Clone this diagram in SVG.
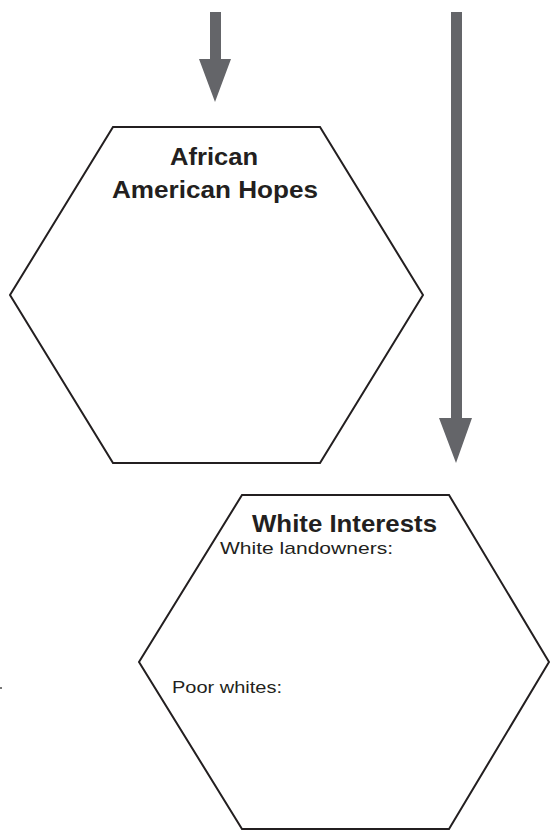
<svg xmlns="http://www.w3.org/2000/svg" width="550" height="832" viewBox="0 0 550 832">
<style>
.hex{fill:#fff;stroke:#231f20;stroke-width:2;stroke-linejoin:miter}
.arrow{fill:#646569}
.title{font-family:"Liberation Sans",Arial,sans-serif;font-weight:bold;font-size:24px;fill:#231f20;text-anchor:middle}
.body{font-family:"Liberation Sans",Arial,sans-serif;font-size:17px;fill:#231f20}
</style>
<rect width="550" height="832" fill="#fff"/>
<g id="connectors">
<path class="arrow" d="M210,12 H221 V59 H231 L215,102 L199,59 H210 Z"/>
<path class="arrow" d="M451,12 H462 V418 H472 L456,463 L439,418 H451 Z"/>
<rect x="0" y="687" width="2" height="2" fill="#777"/>
</g>
<g id="african-american-hopes">
<polygon class="hex" points="113,127 320,127 423,295 320,463 113,463 10,295"/>
<text class="title" x="214" y="165" textLength="88" lengthAdjust="spacingAndGlyphs">African</text>
<text class="title" x="215" y="198" textLength="206" lengthAdjust="spacingAndGlyphs">American Hopes</text>
</g>
<g id="white-interests">
<polygon class="hex" points="242,495 449,495 549,662 449,829 242,829 139,662"/>
<text class="title" x="344.5" y="532" textLength="185" lengthAdjust="spacingAndGlyphs">White Interests</text>
<text class="body" x="220" y="554" textLength="173" lengthAdjust="spacingAndGlyphs">White landowners:</text>
<text class="body" x="172" y="693" textLength="110" lengthAdjust="spacingAndGlyphs">Poor whites:</text>
</g>
</svg>
